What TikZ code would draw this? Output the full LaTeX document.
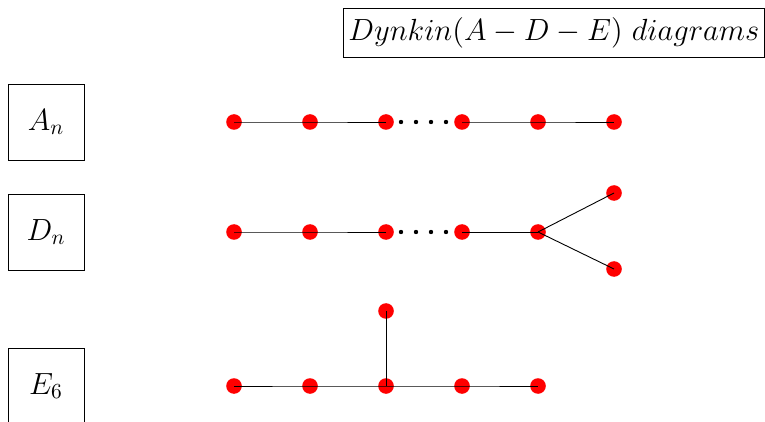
\documentclass[tikz,border=0pt]{standalone}
\usepackage{fix-cm}
\usetikzlibrary{positioning}

\begin{document}
\begin{tikzpicture}[
  x=0.5pt, y=-0.5pt,
  node distance=29.8pt,
  font=\fontsize{15.3}{18}\selectfont,
  vertex/.style={circle, fill=red, inner sep=0pt, minimum size=7.8pt},
  typebox/.style={rectangle, draw, thin, minimum size=38pt},
  titlebox/.style={rectangle, draw, thin, minimum height=24.5pt, inner xsep=2.5pt, anchor=west},
  bond/.style={line width=0.45pt, black},
  gapdot/.style={fill=black}
]
\useasboundingbox (0,0) rectangle (765,422);

% Title
\node[titlebox] (title) at (343,32.5) {$Dynkin(A-D-E)\ diagrams$};

% Type labels
\node[typebox] (An) at (46,122) {$A_n$};
\node[typebox] (Dn) at (46,232) {$D_n$};
\node[typebox] (E6) at (46,386) {$E_6$};

% A_n row
\node[vertex] (a1) at (234,122) {};
\node[vertex, right=of a1] (a2) {};
\node[vertex, right=of a2] (a3) {};
\node[vertex, right=of a3] (a4) {};
\node[vertex, right=of a4] (a5) {};
\node[vertex, right=of a5] (a6) {};

% D_n row
\node[vertex] (d1) at (234,232) {};
\node[vertex, right=of d1] (d2) {};
\node[vertex, right=of d2] (d3) {};
\node[vertex, right=of d3] (d4) {};
\node[vertex, right=of d4] (d5) {};
\node[vertex] (d6) at (614,193) {};
\node[vertex] (d7) at (614,269) {};

% E_6 row
\node[vertex] (e1) at (234,386) {};
\node[vertex, right=of e1] (e2) {};
\node[vertex, right=of e2] (e3) {};
\node[vertex, right=of e3] (e4) {};
\node[vertex, right=of e4] (e5) {};
\node[vertex, above=29.3pt of e3] (e6) {};

% Bonds
\draw[bond] (a1.center) -- (a2.center) -- (a3.center);
\draw[bond] (a4.center) -- (a5.center) -- (a6.center);
\draw[bond] (d1.center) -- (d2.center) -- (d3.center);
\draw[bond] (d4.center) -- (d5.center);
\draw[bond] (d5.center) -- (d6.center);
\draw[bond] (d5.center) -- (d7.center);
\draw[bond] (e1.center) -- (e2.center) -- (e3.center) -- (e4.center) -- (e5.center);
\draw[bond] (e3.center) -- (e6.center);

% Dots for the missing vertices
\foreach \x in {401,416,431,446} {
  \fill[gapdot] (\x,122) circle (1.1pt);
  \fill[gapdot] (\x,232) circle (1.1pt);
}

\end{tikzpicture}
\end{document}
